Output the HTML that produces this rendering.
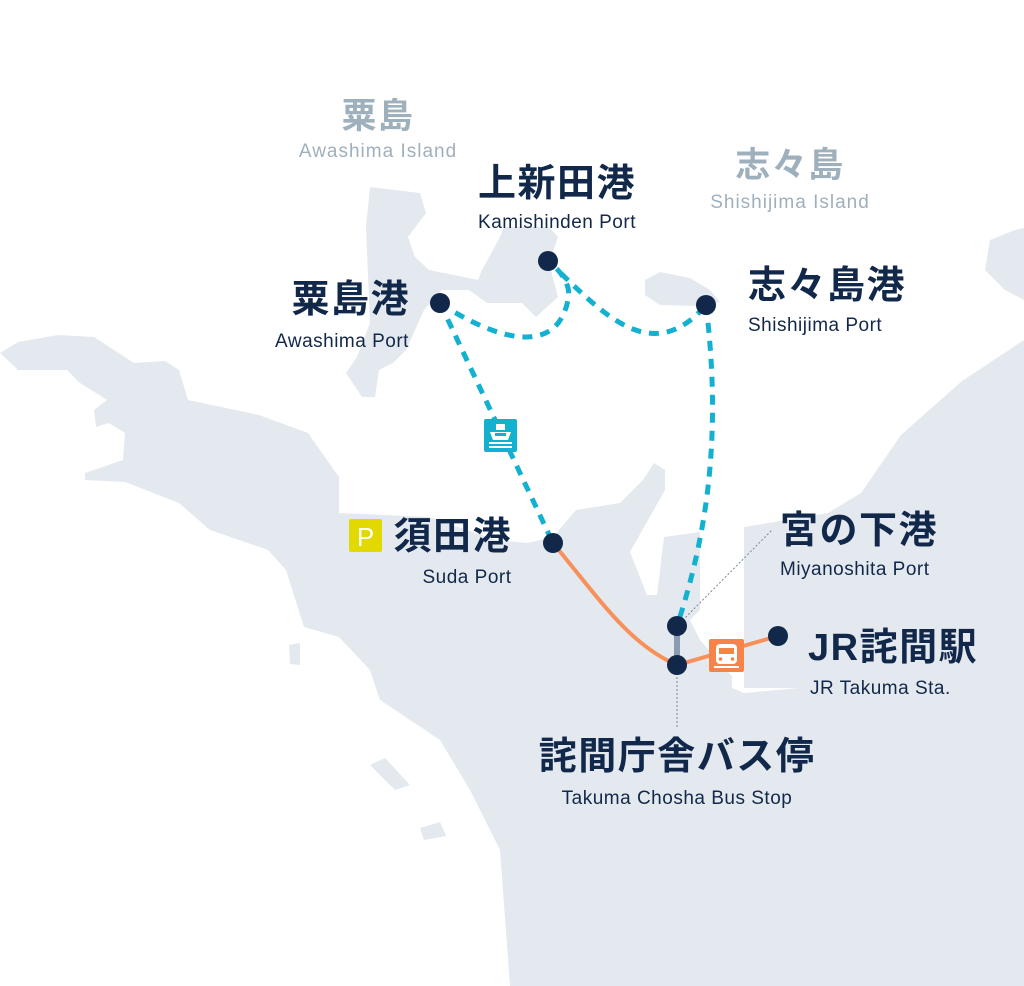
<!DOCTYPE html>
<html><head><meta charset="utf-8"><style>
html,body{margin:0;padding:0;background:#fff}
svg{display:block}
.jp{font-family:"Liberation Sans","Noto Sans CJK JP",sans-serif;font-weight:700;fill:#12284a;letter-spacing:1.5px}
.en{font-family:"Liberation Sans","Noto Sans CJK JP",sans-serif;fill:#12284a;font-size:19px;letter-spacing:0.5px}
.g{fill:#9fb0bd}
</style></head><body>
<svg width="1024" height="986" viewBox="0 0 1024 986" xmlns="http://www.w3.org/2000/svg">
<g fill="#e3e9ee">
<path d="M0,353 L18,342 L58,335 L94,337 L134,363 L165,361 L179,370 L188,400 L259,415 L308,433 L339,477 L339,513 L429,517 L496,540 L527,543 L553,537 L576,510 L620,503 L643,480 L654,463 L665,470 L665,490 L630,552 L647,595 L657,595 L664,537 L700,532 L700,610 L690,620 L700,640 L744,690 L800,688 L744,688 L744,527 L828,513 L861,493 L901,435 L962,381 L1024,340 L1024,986 L510,986 L500,850 L470,790 L440,740 L410,720 L380,700 L370,670 L339,637 L304,627 L286,570 L268,550 L210,530 L179,503 L125,482 L85,480 L85,473 L123,460 L125,433 L109,423 L96,427 L94,410 L107,400 L80,383 L67,370 L18,370 Z"/>
<path d="M370,187 L420,193 L426,213 L408,237 L415,257 L429,270 L478,280 L482,270 L500,237 L504,227 L549,227 L558,237 L549,263 L558,297 L536,317 L522,303 L487,303 L469,290 L442,290 L424,310 L406,350 L393,363 L379,370 L375,397 L362,397 L346,373 L357,357 L370,323 L366,227 Z"/>
<path d="M645,280 L660,272 L690,278 L710,290 L720,302 L700,306 L660,305 L645,295 Z"/>
<path d="M990,240 L1015,230 L1024,228 L1024,300 L1005,290 L985,270 Z"/>
<path d="M370,765 L385,758 L410,785 L395,790 Z"/>
<path d="M420,828 L440,822 L446,836 L424,840 Z"/>
<path d="M289,645 L300,643 L300,665 L290,664 Z"/>
</g>
<path d="M700,532 L710,530 L744,527 L744,690 L800,688 L744,693 L732,688 L730,540 L700,540 Z" fill="#fff"/>
<g fill="none" stroke="#14b0d0" stroke-width="5" stroke-dasharray="10,8">
<path d="M440,303 L553,543"/>
<path d="M440,303 C480,330 555,365 568,300 C572,285 560,270 548,261"/>
<path d="M548,261 C600,310 650,370 706,305"/>
<path d="M706,305 C720,420 712,520 677,626"/>
</g>
<path d="M553,543 C600,600 630,645 677,665 L778,636" fill="none" stroke="#f7905a" stroke-width="4"/>
<line x1="677" y1="626" x2="677" y2="665" stroke="#8b9bb0" stroke-width="6"/>
<g stroke="#7a8796" stroke-width="1" stroke-dasharray="2,2">
<line x1="677" y1="626" x2="772" y2="530"/>
<line x1="677" y1="665" x2="677" y2="727"/>
</g>
<g fill="#12284a">
<circle cx="440" cy="303" r="10"/><circle cx="548" cy="261" r="10"/><circle cx="706" cy="305" r="10"/>
<circle cx="553" cy="543" r="10"/><circle cx="677" cy="626" r="10"/><circle cx="677" cy="665" r="10"/><circle cx="778" cy="636" r="10"/>
</g>
<rect x="484" y="419" width="33" height="33" rx="2" fill="#14b0d0"/>
<g fill="#fff">
<rect x="496" y="424" width="9" height="6"/>
<path d="M490,432 L511,432 L508,440 L493,440 Z"/>
<rect x="489" y="442" width="23" height="2"/>
<rect x="489" y="446" width="23" height="2"/>
</g>
<rect x="495" y="433" width="11" height="3" fill="#14b0d0"/>
<rect x="709" y="639" width="35" height="33" rx="2" fill="#f7834a"/>
<g fill="#fff">
<rect x="716" y="644" width="21" height="20" rx="4"/>
<rect x="714" y="666" width="25" height="2"/>
</g>
<rect x="719" y="648" width="15" height="6" fill="#f7834a"/>
<circle cx="720.5" cy="659" r="1.8" fill="#f7834a"/><circle cx="732.5" cy="659" r="1.8" fill="#f7834a"/>
<rect x="349" y="519" width="33" height="33" rx="2" fill="#e2d900"/>
<text x="365.5" y="546" text-anchor="middle" font-size="26" fill="#fff" font-family="Liberation Sans,sans-serif">P</text>

<text x="378" y="128" text-anchor="middle" font-size="35" class="jp g">粟島</text>
<text x="378" y="157" text-anchor="middle" font-size="21" class="en g" style="letter-spacing:1px">Awashima Island</text>
<text x="790" y="177" text-anchor="middle" font-size="35" class="jp g">志々島</text>
<text x="790" y="208" text-anchor="middle" font-size="21" class="en g" style="letter-spacing:1px">Shishijima Island</text>

<text x="557" y="196" text-anchor="middle" font-size="38" class="jp">上新田港</text>
<text x="557" y="228" text-anchor="middle" class="en">Kamishinden Port</text>
<text x="410" y="312" text-anchor="end" font-size="38" class="jp">粟島港</text>
<text x="342" y="347" text-anchor="middle" class="en">Awashima Port</text>
<text x="748" y="298" font-size="38" class="jp">志々島港</text>
<text x="748" y="331" class="en">Shishijima Port</text>
<text x="512" y="549" text-anchor="end" font-size="38" class="jp">須田港</text>
<text x="467" y="583" text-anchor="middle" class="en">Suda Port</text>
<text x="780" y="543" font-size="38" class="jp">宮の下港</text>
<text x="780" y="575" class="en">Miyanoshita Port</text>
<text x="808" y="660" font-size="38" class="jp">JR詫間駅</text>
<text x="810" y="694" class="en">JR Takuma Sta.</text>
<text x="677" y="769" text-anchor="middle" font-size="38" class="jp">詫間庁舎バス停</text>
<text x="677" y="804" text-anchor="middle" class="en">Takuma Chosha Bus Stop</text>
</svg>
</body></html>
